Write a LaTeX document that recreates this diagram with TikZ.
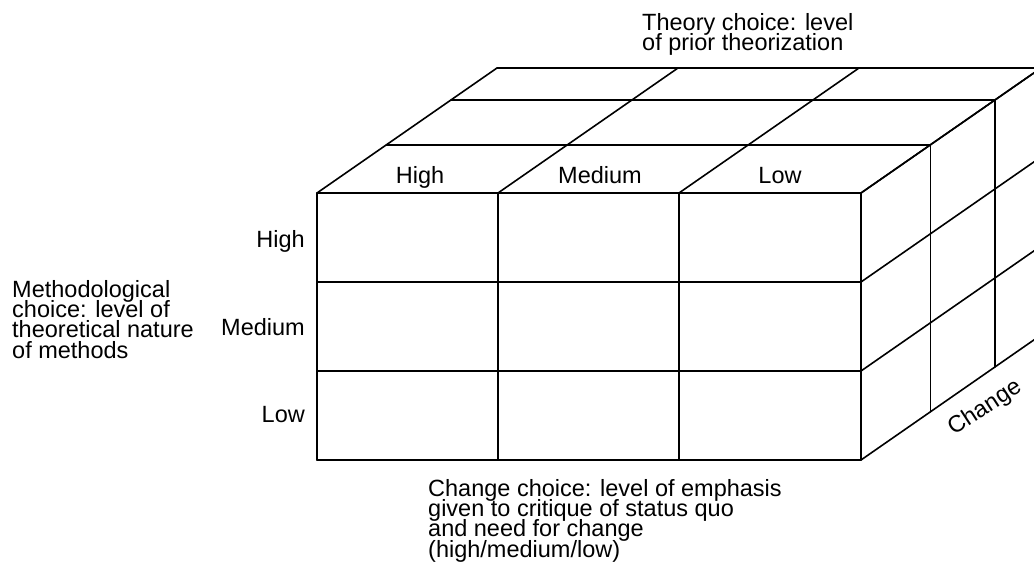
\documentclass[tikz,border=0pt]{standalone}
\usepackage{fontspec}
\setmainfont{Liberation Sans}
\begin{document}
\begin{tikzpicture}[x=1pt,y=-1pt,
  edge/.style={line width=1.6pt, line cap=round, line join=round},
  lbl/.style={inner sep=0pt, font={\fontsize{23.5}{20.2}\selectfont\lineskiplimit=-30pt}},
]
\useasboundingbox (0,0) rectangle (1034,572);
\begin{scope}
\clip (0,0) rectangle (1034,572);
% front face
\foreach \x in {317,498,679,861} \draw[edge] (\x,193) -- (\x,460);
\foreach \y in {193,282,371,460} \draw[edge] (317,\y) -- (861,\y);
% top face
\foreach \t in {0.385,0.745,1} \draw[edge] (317+180*\t,193-125*\t) -- (861+180*\t,193-125*\t);
\foreach \x in {317,498,679,861} \draw[edge] (\x,193) -- (\x+180,68);
% right face
\foreach \t in {0.385,0.745,1} \draw[edge] (861+180*\t,193-125*\t) -- (861+180*\t,460-125*\t);
\foreach \y in {193,282,371,460} \draw[edge] (861,\y) -- (1041,\y-125);
\end{scope}
% labels
\node[lbl, anchor=base west, align=left] (theory) at (642,51) {Theory choice: level\\of prior theorization};
\node[lbl, anchor=base] (tHigh) at (420,184) {High};
\node[lbl, anchor=base] (tMed) at (600,184) {Medium};
\node[lbl, anchor=base] (tLow) at (780,184) {Low};
\node[lbl, anchor=base east] (lHigh) at (305,248) {High};
\node[lbl, anchor=base east] (lMed) at (305,335) {Medium};
\node[lbl, anchor=base east] (lLow) at (305,422) {Low};
\node[lbl, anchor=base west, align=left] (meth) at (12,358) {Methodological\\choice: level of\\theoretical nature\\of methods};
\node[lbl, anchor=base west, align=left] (chg) at (428,557) {Change choice: level of emphasis\\given to critique of status quo\\and need for change\\(high/medium/low)};
\node[lbl, rotate=33] (change) at (985,408) {Change};
\end{tikzpicture}
\end{document}
